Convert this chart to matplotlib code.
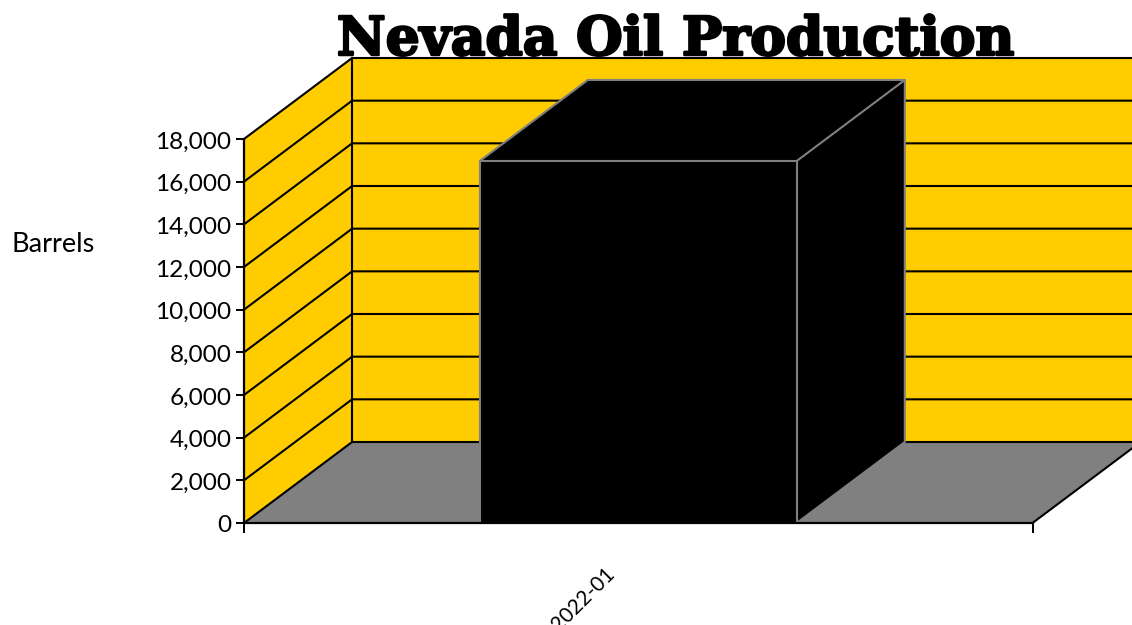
import matplotlib
matplotlib.use("Agg")
import matplotlib.pyplot as plt
import matplotlib.patheffects as pe
from matplotlib.transforms import ScaledTranslation

categories = ["2022-01"]
values = [16970]
y_ticks = list(range(0, 18001, 2000))
title = "Nevada Oil Production"
y_label = "Barrels"

W, H = 1132, 625
WALL, FLOOR, BAR, EDGE = "#FFCC00", "#808080", "#000000", "#808080"
LW = 1.5

fig = plt.figure(figsize=(W / 100, H / 100), dpi=100, facecolor="white")
ax = fig.add_axes([244.0 / W, (H - 523.0) / H, 788.5 / W, 384 / H])
ax.patch.set_visible(False)
ax.set_xlim(-0.5, 0.5)
ax.set_ylim(0, 18000)

# Oblique depth of the 3-D box, in data units
DX = 108 / 788
DY = 81 / 384 * 18000
XL, XR = -0.5, 0.5
YT = y_ticks[-1]


def poly(xs, ys, color, z):
    ax.fill(xs, ys, facecolor=color, edgecolor="none", clip_on=False, zorder=z)


def line(xs, ys, color="black", z=3, lw=LW):
    ax.plot(xs, ys, color=color, lw=lw, clip_on=False, zorder=z, solid_capstyle="round")


# Walls and floor
poly([XL + DX, XR + DX, XR + DX, XL + DX], [DY, DY, YT + DY, YT + DY], WALL, 1)
poly([XL, XL + DX, XL + DX, XL], [0, DY, YT + DY, YT], WALL, 1)
poly([XL, XR, XR + DX, XL + DX], [0, 0, DY, DY], FLOOR, 1)

# Gridlines on both walls
for v in y_ticks:
    line([XL, XL + DX, XR + DX], [v, v + DY, v + DY], z=2)
line([XL + DX, XL + DX], [DY, YT + DY], z=2)
line([XR, XR + DX], [0, DY], z=2)

# Bars
bar_w = 0.402
for i, v in enumerate(values):
    l, r = i - bar_w / 2, i + bar_w / 2
    poly([l, r, r, l], [0, 0, v, v], BAR, 4)
    poly([l, r, r + DX, l + DX], [v, v, v + DY, v + DY], BAR, 4)
    poly([r, r + DX, r + DX, r], [0, DY, v + DY, v], BAR, 4)
    line([l, l, r, r], [0, v, v, 0], EDGE, 5)
    line([l, l + DX, r + DX, r], [v, v + DY, v + DY, v], EDGE, 5)
    line([r + DX, r + DX, r], [v + DY, DY, 0], EDGE, 5)

# Axes
for s in ("top", "right"):
    ax.spines[s].set_visible(False)
for s in ("left", "bottom"):
    ax.spines[s].set_linewidth(1.6)
    ax.spines[s].set_zorder(6)
ax.set_yticks(y_ticks, [f"{v:,}" for v in y_ticks], fontfamily="Lato", fontsize=17.6)
ax.set_xticks(range(len(categories)), categories, fontfamily="Lato", fontsize=15,
              rotation=45, ha="center", va="center", rotation_mode="anchor")
ax.set_xticks([XL, XR], minor=True)
ax.tick_params(axis="y", length=6, width=1.4, pad=3, color="black", labelcolor="black")
ax.tick_params(axis="x", which="major", length=0, pad=55, labelcolor="black")
ax.tick_params(axis="x", which="minor", length=7, width=1.4)

for lab in ax.get_yticklabels():
    lab.set_transform(lab.get_transform() + ScaledTranslation(0, -1.0 / 100, fig.dpi_scale_trans))
for lab in ax.get_xticklabels():
    lab.set_transform(lab.get_transform() + ScaledTranslation(-55 / 100, 0, fig.dpi_scale_trans))

fig.text(53 / W, 1 - 244 / H, y_label, fontfamily="Lato", fontsize=19.5,
         ha="center", va="center", color="black")
fig.text(676 / W, 1 - 55 / H, title, fontfamily="DejaVu Serif", fontweight="bold",
         fontsize=38.5, ha="center", va="baseline", color="black", zorder=10,
         path_effects=[pe.withStroke(linewidth=1.8, foreground="black")])

fig.savefig("out.png", dpi=100)
